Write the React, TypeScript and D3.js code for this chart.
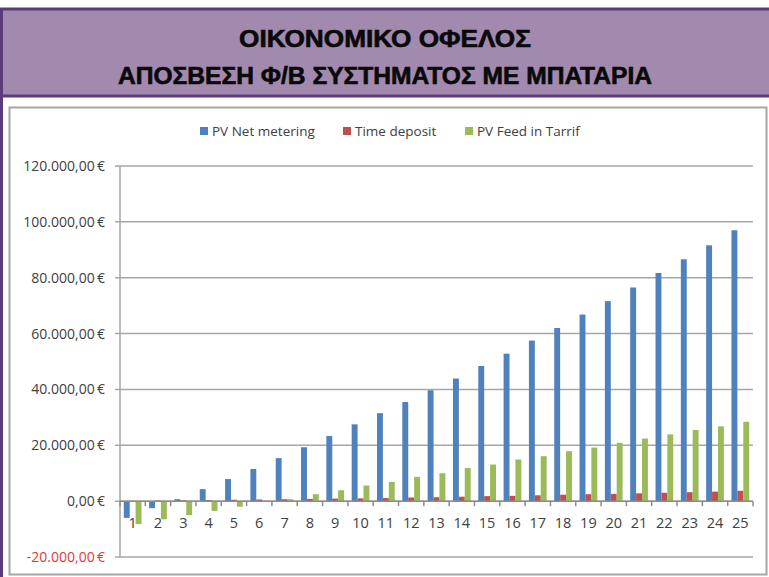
import { useEffect, useRef } from 'react'
import * as d3 from 'd3'

const WIDTH = 769
const HEIGHT = 577

const titleLines = ['ΟΙΚΟΝΟΜΙΚΟ ΟΦΕΛΟΣ', 'ΑΠΟΣΒΕΣΗ Φ/Β ΣΥΣΤΗΜΑΤΟΣ ΜΕ ΜΠΑΤΑΡΙΑ']

const years = d3.range(1, 26).map(String)
const seriesNames = ['PV Net metering', 'Time deposit', 'PV Feed in Tarrif']
const seriesColors = ['#4f81bd', '#c0504d', '#9bbb59']

const netMetering = [
  -6000, -2500, 700, 4300, 7900, 11500, 15400, 19300, 23300, 27500, 31500, 35500, 39700,
  43900, 48400, 52800, 57500, 62000, 66800, 71600, 76500, 81700, 86600, 91600, 97000
]
const timeDeposit = [
  100, 200, 300, 400, 500, 600, 700, 800, 900, 1000, 1100, 1300, 1400, 1600, 1800, 1900,
  2100, 2300, 2500, 2600, 2800, 3000, 3200, 3400, 3700
]
const feedInTariff = [
  -8200, -6500, -5000, -3500, -2000, -300, 700, 2500, 3900, 5600, 6900, 8700, 10000, 11900,
  13100, 14900, 16100, 17900, 19200, 20900, 22400, 23900, 25500, 26800, 28400
]
const yTicks = [-20000, 0, 20000, 40000, 60000, 80000, 100000, 120000]

const seriesValues = [netMetering, timeDeposit, feedInTariff]

// 1234.5 -> "1.234,50 €"
function formatEuro(v: number): string {
  const s = d3.format(',.2f')(v)
  return s.replace(/,/g, '#').replace('.', ',').replace(/#/g, '.').replace('−', '-') + '\u2009€'
}

export default function App() {
  const svgRef = useRef<SVGSVGElement>(null)

  useEffect(() => {
    if (!svgRef.current) return
    const svg = d3.select(svgRef.current)
    svg.selectAll('*').remove()

    const font = '"Open Sans", "Liberation Sans", sans-serif'

    // 배경
    svg.append('rect').attr('width', WIDTH).attr('height', HEIGHT).attr('fill', '#ffffff')

    // 제목 상자
    svg
      .append('rect')
      .attr('x', 1.5)
      .attr('y', 9)
      .attr('width', WIDTH + 5)
      .attr('height', 87)
      .attr('fill', '#a28aae')
      .attr('stroke', '#5b3b7c')
      .attr('stroke-width', 3)
    svg
      .append('line')
      .attr('x1', 1.5)
      .attr('x2', 1.5)
      .attr('y1', 9)
      .attr('y2', HEIGHT)
      .attr('stroke', '#5b3b7c')
      .attr('stroke-width', 3)

    titleLines.forEach((t, i) => {
      svg
        .append('text')
        .attr('x', 385)
        .attr('y', 47 + i * 37)
        .attr('text-anchor', 'middle')
        .attr('textLength', i === 0 ? 292 : 534)
        .attr('lengthAdjust', 'spacingAndGlyphs')
        .style('font-family', '"Liberation Sans", Arial, sans-serif')
        .style('font-weight', 'bold')
        .style('font-size', '23px')
        .style('fill', '#0a0a0a')
        .style('stroke', '#0a0a0a')
        .style('stroke-width', 0.6)
        .text(t)
    })

    // 차트 영역 테두리
    svg
      .append('rect')
      .attr('x', 9.5)
      .attr('y', 107.5)
      .attr('width', 757)
      .attr('height', 467)
      .attr('fill', '#ffffff')
      .attr('stroke', '#a6a6a6')
      .attr('stroke-width', 2)

    const plot = { left: 120, right: 753, top: 166, bottom: 557 }

    const y = d3.scaleLinear().domain([-20000, 120000]).range([plot.bottom, plot.top])
    const x = d3
      .scaleBand()
      .domain(years)
      .range([plot.left, plot.right])
      .paddingInner(0.3)
      .paddingOuter(0.15)
    const xInner = d3
      .scaleBand()
      .domain(seriesNames)
      .range([0, x.bandwidth()])

    // 격자선
    svg
      .append('g')
      .selectAll('line')
      .data(yTicks)
      .enter()
      .append('line')
      .attr('x1', plot.left - 5)
      .attr('x2', plot.right)
      .attr('y1', d => y(d))
      .attr('y2', d => y(d))
      .attr('stroke', '#a6a6a6')
      .attr('stroke-width', 1.5)

    // y축 레이블
    svg
      .append('g')
      .selectAll('text')
      .data(yTicks)
      .enter()
      .append('text')
      .attr('x', plot.left - 15)
      .attr('y', d => y(d) + 5)
      .attr('text-anchor', 'end')
      .style('font-family', font)
      .style('font-size', '14px')
      .style('fill', d => (d < 0 ? '#e0383c' : '#404040'))
      .text(d => formatEuro(d))

    // y축 선
    svg
      .append('line')
      .attr('x1', plot.left)
      .attr('x2', plot.left)
      .attr('y1', plot.top)
      .attr('y2', plot.bottom)
      .attr('stroke', '#a6a6a6')
      .attr('stroke-width', 1.5)

    // 막대
    seriesValues.forEach((vals, s) => {
      svg
        .append('g')
        .selectAll('rect')
        .data(vals)
        .enter()
        .append('rect')
        .attr('x', (_, i) => (x(years[i]) || 0) + (xInner(seriesNames[s]) || 0))
        .attr('y', d => y(Math.max(0, d)))
        .attr('width', xInner.bandwidth())
        .attr('height', d => Math.abs(y(d) - y(0)))
        .attr('fill', seriesColors[s])
    })

    // x축 (0 기준선)
    const y0 = y(0)
    svg
      .append('line')
      .attr('x1', plot.left)
      .attr('x2', plot.right)
      .attr('y1', y0)
      .attr('y2', y0)
      .attr('stroke', '#8c8c8c')
      .attr('stroke-width', 1.5)
    svg
      .append('g')
      .selectAll('line')
      .data(d3.range(years.length + 1))
      .enter()
      .append('line')
      .attr('x1', i => plot.left + i * x.step())
      .attr('x2', i => plot.left + i * x.step())
      .attr('y1', y0)
      .attr('y2', y0 + 5)
      .attr('stroke', '#8c8c8c')
      .attr('stroke-width', 1.5)

    svg
      .append('g')
      .selectAll('text')
      .data(years)
      .enter()
      .append('text')
      .attr('x', d => (x(d) || 0) + x.bandwidth() / 2)
      .attr('y', y0 + 27)
      .attr('text-anchor', 'middle')
      .style('font-family', font)
      .style('font-size', '14.5px')
      .style('fill', '#404040')
      .text(d => d)

    // 범례
    const legendX = [200, 343, 465]
    const legend = svg.append('g')
    seriesNames.forEach((name, s) => {
      legend
        .append('rect')
        .attr('x', legendX[s])
        .attr('y', 127)
        .attr('width', 8)
        .attr('height', 8)
        .attr('fill', seriesColors[s])
      legend
        .append('text')
        .attr('x', legendX[s] + 12)
        .attr('y', 136)
        .style('font-family', font)
        .style('font-size', '13.5px')
        .style('fill', '#404040')
        .text(name)
    })
  }, [])

  return (
    <svg
      ref={svgRef}
      width={WIDTH}
      height={HEIGHT}
      style={{ position: 'absolute', left: 0, top: 0, display: 'block' }}
    />
  )
}
